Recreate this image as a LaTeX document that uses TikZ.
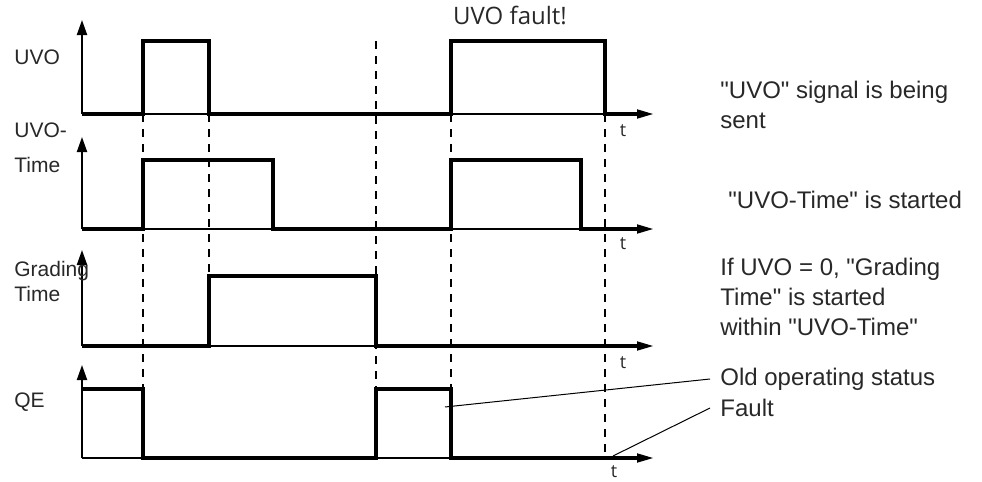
\documentclass[tikz,border=0pt]{standalone}
\usepackage{fontspec}
\setmainfont{Liberation Sans}
\newfontfamily\segfont{Open Sans}
\usetikzlibrary{arrows.meta}
\newcommand{\qmark}{\textquotedbl}
\definecolor{label_grey}{RGB}{40,40,40}
\tikzset{
signal_line/.style={line width=1.6pt, line join=miter},
time_axis/.style={line width=0.6pt, -{Triangle[length=8pt,width=4.6pt]}},
value_axis/.style={line width=1pt, -{Triangle[length=7.5pt,width=5pt]}},
guide_line/.style={line width=0.75pt, dash pattern=on 4pt off 3.5pt},
row_label/.style={anchor=west, inner sep=0pt, align=left, text=label_grey},
note_text/.style={anchor=west, inner sep=5pt, align=left, text=label_grey, font=\fontsize{12}{15}\selectfont},
time_label/.style={inner sep=0pt, text=label_grey, font=\segfont\fontsize{9}{10}\selectfont},
leader_line/.style={line width=0.5pt}
}

\begin{document}
\begin{tikzpicture}[x=0.5pt,y=-0.5pt]
    \useasboundingbox (0,0) rectangle (982,482);
    % axes of the four rows
    \foreach \top/\base in {20/114, 137/229, 250/346, 365/458} {
        \draw[value_axis] (82,\base) -- (82,\top);
        \draw[time_axis] (82,\base) -- (653,\base);
    }
    \node[time_label] (t_uvo) at (623,131) {t};
    \node[time_label] (t_uvo_time) at (623,244) {t};
    \node[time_label] (t_grading) at (623,363) {t};
    \node[time_label] (t_qe) at (614,472) {t};

    % guide lines
    \draw[guide_line] (143,114) -- (143,389);
    \draw[guide_line] (209,114) -- (209,276);
    \draw[guide_line] (376,41) -- (376,389);
    \draw[guide_line] (451,114) -- (451,389);
    \draw[guide_line] (605,114) -- (605,458);

    % signals
    \draw[signal_line] (82,114) -- (143,114) -- (143,41) -- (209,41) -- (209,114)
        -- (451,114) -- (451,41) -- (605,41) -- (605,114) -- (640,114);
    \draw[signal_line] (82,229) -- (143,229) -- (143,160) -- (273,160) -- (273,229)
        -- (451,229) -- (451,160) -- (581,160) -- (581,229) -- (640,229);
    \draw[signal_line] (82,346) -- (209,346) -- (209,276) -- (376,276) -- (376,346)
        -- (640,346);
    \draw[signal_line] (82,389) -- (143,389) -- (143,458) -- (376,458) -- (376,389)
        -- (451,389) -- (451,458) -- (640,458);

    % row labels
    \node[row_label, font=\fontsize{10.5}{12}\selectfont] (lbl_uvo) at (14,57) {UVO};
    \node[row_label, font=\fontsize{10.5}{17.5}\selectfont] (lbl_uvo_time) at (14,148) {UVO-\\Time};
    \node[row_label, font=\fontsize{10.5}{12.5}\selectfont] (lbl_grading) at (14,281) {Grading\\Time};
    \node[row_label, font=\fontsize{10.5}{12}\selectfont] (lbl_qe) at (14,402) {QE};

    \node[inner sep=0pt, text=label_grey, font=\segfont\fontsize{12}{14}\selectfont] (fault_title) at (510,15) {UVO fault!};

    % notes on the right
    \node[note_text] (note_uvo) at (710,105) {\qmark UVO\qmark{} signal is being\\sent};
    \node[note_text] (note_uvo_time) at (718,200) {\qmark UVO-Time\qmark{} is started};
    \node[note_text] (note_grading) at (710,297) {If UVO = 0, \qmark Grading\\Time\qmark{} is started\\within \qmark UVO-Time\qmark};
    \node[note_text] (old_status) at (710,379) {Old operating status};
    \node[note_text] (fault_status) at (710,408) {Fault};

    \coordinate (qe_old) at (445,407);
    \coordinate (qe_fault) at (613,456);
    \draw[leader_line] (qe_old) -- (old_status.west);
    \draw[leader_line] (qe_fault) -- (fault_status.west);
\end{tikzpicture}
\end{document}
